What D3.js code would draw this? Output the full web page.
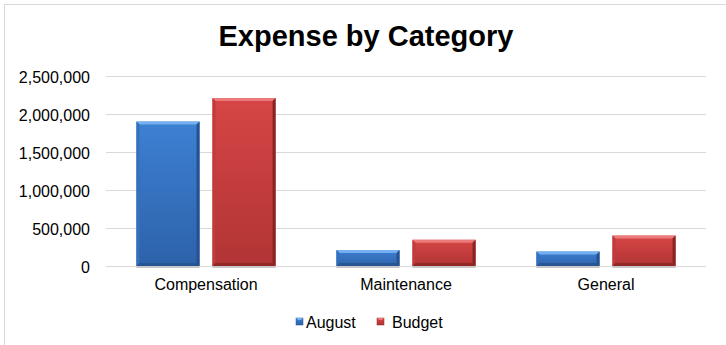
<!DOCTYPE html>
<html>
<head>
<meta charset="utf-8">
<script src="https://cdn.jsdelivr.net/npm/d3@7"></script>
<style>
  body { margin: 0; background: #fff; }
  text { font-family: "Liberation Sans", Arial, sans-serif; fill: #000; }
</style>
</head>
<body>
<div id="chart"></div>
<script>
// chart data
const categories = ["Compensation", "Maintenance", "General"];
const seriesNames = ["August", "Budget"];
const august = [1900000, 210000, 190000];
const budget = [2210000, 345000, 400000];
const yTicks = [0, 500000, 1000000, 1500000, 2000000, 2500000];

const width = 726, height = 345;
const margin = {top: 76, right: 20, bottom: 79, left: 106};

// colours for each series: main top, main bottom, top bevel, side bevel
const palette = {
  August: {top: "#3d80d2", bottom: "#2d62aa", bevel: "#74b0f0", side: "#25528f", left: "#3570bd"},
  Budget: {top: "#d64646", bottom: "#b23434", bevel: "#ec7a7a", side: "#8a2424", left: "#c23b3b"}
};

const svg = d3.select("#chart")
  .append("svg")
  .attr("width", width)
  .attr("height", height);

// outer chart border
svg.append("rect")
  .attr("x", 4.5).attr("y", 4.5)
  .attr("width", 760).attr("height", 400)
  .attr("fill", "#fff")
  .attr("stroke", "#d9d9d9");

const defs = svg.append("defs");
seriesNames.forEach(s => {
  const g = defs.append("linearGradient")
    .attr("id", "grad-" + s)
    .attr("x1", 0).attr("y1", 0).attr("x2", 0).attr("y2", 1);
  g.append("stop").attr("offset", "0%").attr("stop-color", palette[s].top);
  g.append("stop").attr("offset", "100%").attr("stop-color", palette[s].bottom);
});

// scales
const x0 = d3.scaleBand()
  .domain(categories)
  .range([margin.left, 706])
  .padding(0);

const x1 = d3.scaleBand()
  .domain(seriesNames)
  .range([0, x0.bandwidth()])
  .paddingInner(0.17)
  .paddingOuter(0.4);

const y = d3.scaleLinear()
  .domain([0, 2500000])
  .range([height - 79, margin.top]);

// gridlines
svg.append("g")
  .selectAll("line")
  .data(yTicks)
  .enter()
  .append("line")
    .attr("x1", margin.left)
    .attr("x2", 706)
    .attr("y1", d => Math.round(y(d)) + 0.5)
    .attr("y2", d => Math.round(y(d)) + 0.5)
    .attr("stroke", "#d9d9d9")
    .attr("stroke-width", 1);

// y axis labels
const yAxis = svg.append("g")
  .attr("transform", `translate(90,1.5)`)
  .call(d3.axisLeft(y).tickValues(yTicks).tickFormat(d3.format(",")).tickSize(0).tickPadding(0));
yAxis.select(".domain").remove();
yAxis.selectAll("text")
  .attr("font-size", "16px")
  .attr("font-family", "Liberation Sans, Arial, sans-serif")
  .attr("fill", "#000");

// x axis labels
const xAxis = svg.append("g")
  .attr("transform", `translate(0,${y(0)})`)
  .call(d3.axisBottom(x0).tickSize(0).tickPadding(13));
xAxis.select(".domain").remove();
xAxis.selectAll("text")
  .attr("font-size", "16px")
  .attr("font-family", "Liberation Sans, Arial, sans-serif")
  .attr("fill", "#000");

// rows of bar data
const rows = [];
categories.forEach((c, i) => {
  rows.push({cat: c, series: "August", value: august[i]});
  rows.push({cat: c, series: "Budget", value: budget[i]});
});

// draws one bevelled bar
function drawBar(g, bx, by, bw, bh, s) {
  const b = Math.min(3, bh / 3);
  const p = palette[s];
  // shadow under bar
  g.append("rect")
    .attr("x", bx).attr("y", by + bh)
    .attr("width", bw).attr("height", 2)
    .attr("fill", "#c8c8c8");
  g.append("rect")
    .attr("x", bx).attr("y", by)
    .attr("width", bw).attr("height", bh)
    .attr("fill", `url(#grad-${s})`);
  g.append("polygon")
    .attr("points", [[bx, by], [bx + bw, by], [bx + bw - b, by + b], [bx + b, by + b]].join(" "))
    .attr("fill", p.bevel);
  g.append("polygon")
    .attr("points", [[bx, by], [bx + b, by + b], [bx + b, by + bh - b], [bx, by + bh]].join(" "))
    .attr("fill", p.left);
  g.append("polygon")
    .attr("points", [[bx + bw, by], [bx + bw - b, by + b], [bx + bw - b, by + bh - b], [bx + bw, by + bh]].join(" "))
    .attr("fill", p.side);
  g.append("polygon")
    .attr("points", [[bx, by + bh], [bx + b, by + bh - b], [bx + bw - b, by + bh - b], [bx + bw, by + bh]].join(" "))
    .attr("fill", p.side)
    .attr("opacity", 0.8);
}

const bars = svg.append("g");
rows.forEach(d => {
  const bx = x0(d.cat) + x1(d.series);
  const by = y(d.value);
  drawBar(bars.append("g"), bx, by, x1.bandwidth(), y(0) - by, d.series);
});

// title
svg.append("text")
  .attr("x", 366)
  .attr("y", 46)
  .attr("text-anchor", "middle")
  .attr("font-size", "29px")
  .attr("font-weight", "bold")
  .text("Expense by Category");

// legend
const legendX = [296, 377];
const legend = svg.append("g");
seriesNames.forEach((s, i) => {
  const lg = legend.append("g").attr("transform", `translate(${legendX[i]},318)`);
  lg.append("rect")
    .attr("width", 7).attr("height", 7)
    .attr("fill", `url(#grad-${s})`)
    .attr("stroke", palette[s].side)
    .attr("stroke-width", 0.5);
  lg.append("polygon")
    .attr("points", "0,0 7,0 5,2 2,2")
    .attr("fill", palette[s].bevel);
  lg.append("text")
    .attr("x", i === 0 ? 10 : 15)
    .attr("y", 4)
    .attr("dy", "0.35em")
    .attr("font-size", "16px")
    .text(s);
});
</script>
</body>
</html>
